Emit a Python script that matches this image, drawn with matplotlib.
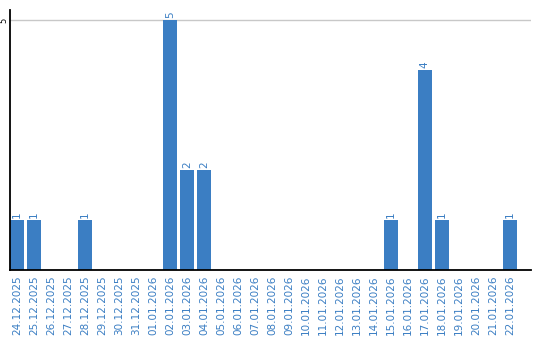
import matplotlib
matplotlib.use('Agg')
import matplotlib.pyplot as plt
import numpy as np

dates = ['24.12.2025', '25.12.2025', '26.12.2025', '27.12.2025', '28.12.2025',
         '29.12.2025', '30.12.2025', '31.12.2025', '01.01.2026', '02.01.2026',
         '03.01.2026', '04.01.2026', '05.01.2026', '06.01.2026', '07.01.2026',
         '08.01.2026', '09.01.2026', '10.01.2026', '11.01.2026', '12.01.2026',
         '13.01.2026', '14.01.2026', '15.01.2026', '16.01.2026', '17.01.2026',
         '18.01.2026', '19.01.2026', '20.01.2026', '21.01.2026', '22.01.2026']
counts = [1, 1, 0, 0, 1, 0, 0, 0, 0, 5, 2, 2, 0, 0, 0,
          0, 0, 0, 0, 0, 0, 0, 1, 0, 4, 1, 0, 0, 0, 1]

blue = '#3b7ec3'
W, H = 540, 340
fig = plt.figure(figsize=(W / 100, H / 100), dpi=100)
ax = fig.add_axes([10 / W, 70 / H, 521 / W, 260 / H])

x = np.arange(len(dates))
ax.bar(x, counts, width=0.82, color=blue, zorder=2)
for xi, c in zip(x, counts):
    if c > 0:
        ax.text(xi, c + 0.04, str(c), rotation=90, ha='center', va='bottom',
                color=blue, fontsize=7.5)

ax.set_xlim(-0.41, 30.24)
ax.set_ylim(0, 5.2)
ax.axhline(5, color='#c8c8c8', lw=1, zorder=1)
ax.set_yticks([5])
ax.set_yticklabels(['5'], rotation=90, va='center', ha='right', fontsize=6)
ax.set_xticks(x)
ax.set_xticklabels(dates, rotation=90, color=blue, fontsize=7.5)
ax.tick_params(length=0, pad=4)
ax.tick_params(axis='y', pad=1.5)
for s in ['top', 'right']:
    ax.spines[s].set_visible(False)
for s in ['left', 'bottom']:
    ax.spines[s].set_linewidth(1.3)

fig.savefig('out.png', dpi=100)
